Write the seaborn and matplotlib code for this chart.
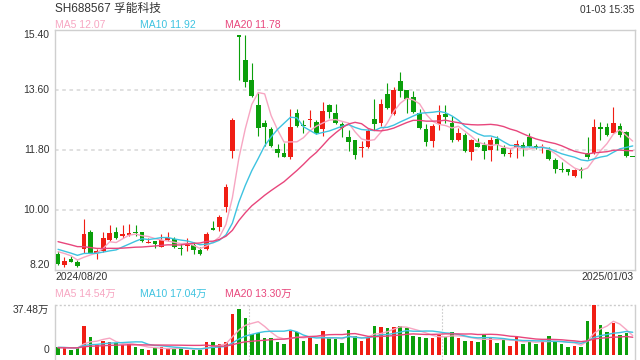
import numpy as np
import pandas as pd
import matplotlib
matplotlib.use("Agg")
import matplotlib.pyplot as plt
import seaborn as sns

# ---------------- data ----------------
title = "SH688567 孚能科技"
stamp = "01-03 15:35"
date_first = "2024/08/20"
date_last = "2025/01/03"

open_ = [8.67, 8.35, 8.54, 8.44, 8.83, 9.34, 8.71, 8.78, 9.11, 9.34,
         9.23, 9.26, 9.34, 9.34, 9.01, 9.08, 8.90, 9.10, 9.14, 8.86,
         8.92, 8.96, 8.80, 8.83, 9.46, 9.50, 10.08, 11.78, 15.24, 14.50,
         13.90, 13.15, 12.60, 12.44, 11.83, 11.71, 11.59, 12.90, 12.56, 12.70,
         12.64, 12.43, 13.15, 12.90, 12.57, 12.19, 12.10, 11.87, 11.89, 12.73,
         12.62, 13.48, 12.88, 13.87, 13.60, 13.38, 12.90, 12.42, 12.08, 12.57,
         12.88, 12.61, 12.10, 12.25, 11.75, 12.02, 11.95, 11.80, 12.13, 11.85,
         11.67, 11.85, 11.95, 12.20, 11.91, 11.86, 11.80, 11.50, 11.22, 11.24,
         11.02, 11.22, 11.70, 11.70, 12.50, 12.48, 12.30, 12.52, 12.35, 11.58]
high = [8.77, 8.59, 8.62, 8.50, 9.73, 9.40, 8.84, 9.33, 9.55, 9.49,
        9.55, 9.58, 9.55, 9.34, 9.16, 9.08, 9.27, 9.34, 9.20, 9.00,
        9.15, 9.03, 8.90, 9.33, 9.68, 9.84, 10.78, 12.75, 15.24, 15.25,
        14.40, 13.52, 12.70, 12.50, 11.97, 12.02, 13.02, 13.02, 12.70, 13.00,
        12.70, 13.25, 13.18, 13.17, 12.65, 12.40, 12.10, 12.07, 12.43, 13.33,
        13.33, 13.82, 13.68, 14.14, 13.60, 13.58, 13.02, 12.58, 12.58, 13.15,
        13.15, 12.82, 12.45, 12.30, 12.12, 12.15, 12.03, 12.18, 12.22, 11.95,
        11.82, 12.10, 12.03, 12.30, 11.98, 11.97, 11.88, 11.55, 11.45, 11.24,
        11.22, 11.30, 12.20, 12.73, 12.65, 12.62, 13.10, 12.62, 12.38, 11.58]
low = [8.35, 8.29, 8.45, 8.28, 8.70, 8.70, 8.52, 8.74, 9.07, 9.14,
       9.17, 9.23, 9.23, 9.05, 9.01, 8.87, 8.90, 9.08, 8.86, 8.65,
       8.77, 8.68, 8.65, 8.80, 9.40, 9.38, 9.95, 11.57, 13.90, 13.70,
       13.40, 12.22, 11.92, 11.90, 11.60, 11.58, 11.52, 12.50, 12.30, 12.50,
       12.28, 12.22, 12.75, 12.58, 12.20, 11.78, 11.52, 11.60, 11.85, 12.40,
       12.53, 13.02, 12.85, 13.40, 12.90, 12.90, 12.42, 11.92, 11.90, 12.40,
       12.60, 12.05, 12.06, 11.75, 11.50, 11.88, 11.52, 11.48, 11.80, 11.62,
       11.60, 11.55, 11.63, 11.90, 11.82, 11.70, 11.50, 11.12, 11.15, 11.06,
       11.00, 10.95, 11.53, 11.68, 12.10, 12.22, 12.30, 12.18, 11.60, 11.58]
close = [8.38, 8.48, 8.45, 8.32, 9.28, 8.72, 8.77, 9.16, 9.31, 9.16,
         9.28, 9.32, 9.31, 9.08, 9.03, 8.98, 9.10, 9.16, 8.89, 8.83,
         9.02, 8.80, 8.68, 9.28, 9.41, 9.78, 10.68, 12.70, 15.18, 13.85,
         13.42, 12.47, 12.50, 11.92, 11.70, 11.60, 12.49, 12.52, 12.53, 12.73,
         12.30, 12.97, 12.95, 12.62, 12.45, 12.05, 11.65, 11.89, 12.37, 12.58,
         13.18, 13.07, 13.60, 13.58, 13.32, 12.95, 12.47, 12.05, 12.52, 12.85,
         12.78, 12.10, 12.31, 11.78, 12.10, 11.90, 11.78, 12.10, 11.95, 11.68,
         11.70, 11.98, 11.86, 11.93, 11.87, 11.90, 11.53, 11.23, 11.19, 11.14,
         11.20, 11.18, 11.58, 12.50, 12.43, 12.25, 12.62, 12.25, 11.63, 11.58]
volume = [5.75, 5.0, 3.75, 5.0, 22.0, 13.5, 7.5, 10.5, 9.75, 8.75,
          7.25, 8.25, 6.0, 4.5, 3.75, 5.25, 5.75, 4.5, 5.0, 5.25,
          3.75, 4.0, 4.0, 9.75, 9.75, 8.25, 9.75, 30.75, 34.5, 27.75,
          15.75, 16.25, 12.75, 12.75, 10.0, 8.25, 18.25, 17.25, 10.5, 13.25,
          8.2, 18.0, 13.0, 12.0, 9.0, 18.75, 14.0, 10.75, 13.25, 21.75,
          21.0, 20.25, 21.0, 21.75, 20.25, 14.25, 13.5, 12.75, 12.75, 15.25,
          13.75, 17.25, 12.75, 10.5, 10.5, 9.75, 15.25, 13.0, 9.25, 11.25,
          6.75, 14.15, 8.25, 10.25, 8.25, 9.6, 13.9, 10.25, 8.25, 6.0,
          6.55, 5.65, 25.5, 37.48, 22.5, 17.0, 24.0, 15.0, 16.7, 0.0]
# sessions before the visible window (needed for the moving averages)
prior_close = [9.45, 9.40, 9.38, 9.30, 9.25, 9.28, 9.22, 9.20, 9.18, 9.14,
               9.05, 9.02, 8.98, 8.72, 8.68, 8.75, 8.80, 8.95, 8.87]
prior_volume = [5.2, 4.8, 5.5, 6.0, 4.6, 5.0, 5.3, 4.9, 5.1, 4.7,
                5.8, 6.2, 5.4, 5.0, 6.5, 5.9, 5.2, 5.6, 6.1]
price_ticks = [8.20, 10.00, 11.80, 13.60, 15.40]
vol_max = 37.48

# ---------------- style ----------------
sns.set_theme(style="white")
plt.rcParams["font.family"] = ["Liberation Sans", "Noto Sans CJK SC", "DejaVu Sans"]

RED = "#f01e14"
GREEN = "#0b9f0b"
C_MA5 = "#f7a6c2"
C_MA10 = "#3ec3e0"
C_MA20 = "#e8467c"
FRAME = "#cfcfcf"
TXT = "#333333"

n = len(close)
idx = np.arange(n)
df = pd.DataFrame({"i": idx, "open": open_, "high": high, "low": low,
                   "close": close, "volume": volume})
up = df["close"] > df["open"]
colors = np.where(up, RED, GREEN)

allc = pd.Series(prior_close + close)
allv = pd.Series(prior_volume + volume)
k = len(prior_close)
for w in (5, 10, 20):
    df[f"ma{w}"] = allc.rolling(w).mean().iloc[k:].to_numpy()
    df[f"vma{w}"] = allv.rolling(w).mean().iloc[k:].to_numpy()

W, H = 640, 360
fig = plt.figure(figsize=(6.4, 3.6), dpi=100)
fig.patch.set_facecolor("white")

def fx(x):
    return x / W

def fy(y):
    return 1 - y / H

# price panel: x 55..635, y 30..270
ax = fig.add_axes([fx(55), fy(270), (635 - 55) / W, 240 / H])
# volume panel: x 55..635, y 305..360 (zero at y=355)
axv = fig.add_axes([fx(55), 0.0, (635 - 55) / W, 55 / H])

xl = (-0.47, n - 1 + 0.35)

# ---- candles ----
body = (df["close"] - df["open"]).abs().clip(lower=0.035)
bottom = np.minimum(df["open"], df["close"])
ax.vlines(df["i"], df["low"], df["high"], colors=colors, linewidth=0.8, zorder=3)
ax.bar(df["i"], body, bottom=bottom, width=0.72, color=colors,
       linewidth=0, zorder=4)

for col, c in (("ma5", C_MA5), ("ma10", C_MA10), ("ma20", C_MA20)):
    sns.lineplot(data=df, x="i", y=col, ax=ax, color=c, linewidth=1.0,
                 legend=False, zorder=5)

ax.set_xlim(*xl)
ax.set_ylim(price_ticks[0], price_ticks[-1])
ax.set_xlabel("")
ax.set_ylabel("")
ax.set_xticks([])
ax.set_yticks(price_ticks)
labs = ax.set_yticklabels([f"{t:.2f}" for t in price_ticks], fontsize=7.5, color=TXT)
for lab, va in zip(labs, ["bottom", "center", "center", "center", "top"]):
    lab.set_verticalalignment(va)
ax.tick_params(axis="y", length=0, pad=4)
for t in price_ticks[1:-1]:
    ax.axhline(t, color="#dddddd", linewidth=1.3, linestyle=(0, (2, 2)), zorder=1)
for s in ax.spines.values():
    s.set_color(FRAME)
    s.set_linewidth(1.0)

# ---- volume ----
axv.bar(df["i"], df["volume"], width=0.55, color=colors, linewidth=0, zorder=3)
for col, c in (("vma5", C_MA5), ("vma10", C_MA10), ("vma20", C_MA20)):
    sns.lineplot(data=df, x="i", y=col, ax=axv, color=c, linewidth=1.0,
                 legend=False, zorder=4)
axv.set_xlim(*xl)
axv.set_ylim(-vol_max * 5 / 50, vol_max)
axv.set_xlabel("")
axv.set_ylabel("")
axv.set_xticks([])
axv.set_yticks([0, vol_max])
vl = axv.set_yticklabels(["0", f"{vol_max:.2f}万"], fontsize=7.5, color=TXT)
vl[0].set_verticalalignment("bottom")
vl[1].set_verticalalignment("top")
axv.tick_params(axis="y", length=0, pad=4)
axv.axhline(vol_max, color="#cccccc", linewidth=1.0, linestyle=(0, (1.5, 1.5)),
            clip_on=False, zorder=2)
for xv in (29.5, 59.5):
    axv.axvline(xv, color="#cccccc", linewidth=0.8, linestyle=(0, (1.5, 1.5)), zorder=1)
axv.spines["top"].set_visible(False)
axv.spines["bottom"].set_visible(False)
for s in ("left", "right"):
    axv.spines[s].set_color(FRAME)
    axv.spines[s].set_linewidth(1.0)

# ---- texts ----
fig.text(fx(55), fy(8.5), title, fontsize=8.5, color=TXT, va="center", ha="left")
fig.text(fx(634), fy(10), stamp, fontsize=7.3, color=TXT, va="center", ha="right")

last = df.iloc[-1]
fig.text(fx(55), fy(24.5), f"MA5 {last['ma5']:.2f}", fontsize=7.5, color=C_MA5, va="center")
fig.text(fx(140), fy(24.5), f"MA10 {last['ma10']:.2f}", fontsize=7.5, color=C_MA10, va="center")
fig.text(fx(225), fy(24.5), f"MA20 {last['ma20']:.2f}", fontsize=7.5, color=C_MA20, va="center")

fig.text(fx(55), fy(277.5), date_first, fontsize=7.5, color=TXT, va="center", ha="left")
fig.text(fx(634), fy(277.5), date_last, fontsize=7.5, color=TXT, va="center", ha="right")

fig.text(fx(55), fy(294), f"MA5 {last['vma5']:.2f}万", fontsize=7.5, color=C_MA5, va="center")
fig.text(fx(140), fy(294), f"MA10 {last['vma10']:.2f}万", fontsize=7.5, color=C_MA10, va="center")
fig.text(fx(225), fy(294), f"MA20 {last['vma20']:.2f}万", fontsize=7.5, color=C_MA20, va="center")

fig.savefig("out.png", dpi=100, facecolor="white")
